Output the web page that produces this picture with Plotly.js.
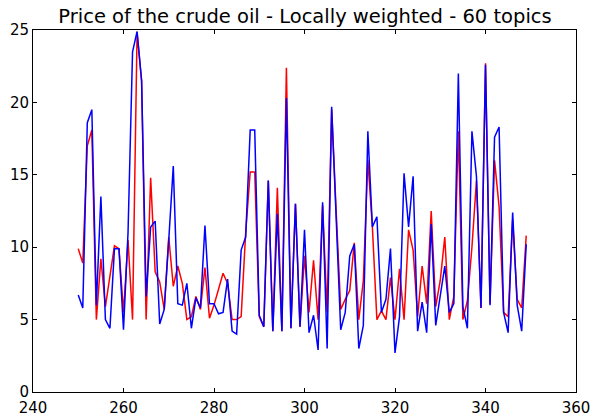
<!DOCTYPE html>
<html>
<head>
<meta charset="utf-8">
<script src="https://cdn.plot.ly/plotly-3.0.1.min.js"></script>
<style>html,body{margin:0;padding:0;background:#fff;}#chart{width:590px;height:419px;}</style>
</head>
<body>
<div id="chart"></div>
<script>
const xStart = 250;
const redValues = [
  9.9, 8.9, 17.0, 18.1, 5.0, 9.2, 5.9, 8.0, 10.1, 9.9,
  5.5, 10.5, 5.0, 24.8, 21.5, 5.0, 14.8, 8.3, 7.6, 5.7,
  10.7, 7.3, 8.7, 7.5, 5.0, 5.2, 6.6, 5.7, 8.6, 5.1,
  6.0, 7.1, 8.2, 7.5, 5.0, 5.0, 5.2, 11.0, 15.2, 15.2,
  5.2, 4.5, 14.6, 4.2, 14.1, 4.2, 22.4, 4.4, 13.0, 4.5,
  9.4, 5.5, 9.1, 5.0, 12.9, 5.5, 19.5, 12.5, 5.7, 6.4,
  7.0, 10.3, 5.0, 7.7, 16.0, 11.4, 5.0, 5.6, 5.0, 7.9,
  5.0, 8.5, 5.0, 11.2, 9.8, 5.2, 8.7, 6.1, 12.5, 5.9,
  7.7, 10.7, 5.0, 6.6, 18.0, 5.0, 6.3, 10.0, 14.6, 5.8,
  22.7, 6.1, 16.0, 12.8, 5.5, 5.2, 11.9, 6.4, 5.8, 10.8
];
const blueValues = [
  6.7, 5.8, 18.6, 19.5, 6.0, 13.5, 5.0, 4.4, 9.9, 9.9,
  4.3, 11.0, 23.5, 24.9, 21.5, 6.6, 11.4, 11.8, 4.7, 5.7,
  10.5, 15.6, 6.1, 6.0, 7.5, 4.4, 6.5, 5.8, 11.5, 6.1,
  6.1, 5.4, 5.5, 7.8, 4.2, 4.0, 9.8, 10.7, 18.1, 18.1,
  5.3, 4.5, 14.6, 4.2, 12.3, 4.2, 20.3, 4.4, 13.0, 4.5,
  11.2, 4.1, 5.3, 2.9, 13.1, 3.0, 19.7, 11.9, 4.3, 5.5,
  9.4, 10.2, 3.0, 4.6, 18.0, 11.4, 12.1, 5.5, 6.4, 9.9,
  2.7, 5.2, 15.1, 11.4, 14.9, 4.2, 6.2, 4.1, 11.6, 4.6,
  6.6, 8.7, 5.5, 6.1, 22.0, 5.9, 4.4, 18.0, 14.9, 5.8,
  22.6, 6.0, 17.6, 18.3, 5.5, 4.1, 12.4, 6.0, 4.2, 10.2
];
const xValues = redValues.map((_, i) => xStart + i);
const xTicks = [240, 260, 280, 300, 320, 340, 360];
const yTicks = [0, 5, 10, 15, 20, 25];
const titleText = "Price of the crude oil - Locally weighted - 60 topics";

const font = {family: "DejaVu Sans, sans-serif", color: "#000"};
const traces = [
  {x: xValues, y: redValues, type: "scatter", mode: "lines", line: {color: "#ff0000", width: 1.5}, hoverinfo: "skip", cliponaxis: false},
  {x: xValues, y: blueValues, type: "scatter", mode: "lines", line: {color: "#0000ff", width: 1.5}, hoverinfo: "skip", cliponaxis: false}
];
const axisCommon = {
  showgrid: false, zeroline: false, showline: true, linecolor: "#000", linewidth: 1,
  mirror: "ticks", ticks: "inside", ticklen: 4, tickcolor: "#000", tickwidth: 1,
  tickfont: Object.assign({size: 15}, font), ticklabeloverflow: "allow"
};
const layout = {
  width: 590, height: 419,
  margin: {l: 33, r: 14, t: 30, b: 27, pad: 0},
  paper_bgcolor: "#fff", plot_bgcolor: "#fff",
  showlegend: false,
  title: {text: titleText, font: Object.assign({size: 19.5}, font), x: 0.517, xanchor: "center", y: 0.962, yanchor: "middle"},
  xaxis: Object.assign({}, axisCommon, {range: [240, 360], tickmode: "array", tickvals: xTicks, ticktext: xTicks.map(String), ticklabelstandoff: 2}),
  yaxis: Object.assign({}, axisCommon, {range: [0, 25], tickmode: "array", tickvals: yTicks, ticktext: yTicks.map(String)})
};
Plotly.newPlot("chart", traces, layout, {staticPlot: true, displayModeBar: false});
</script>
</body>
</html>
